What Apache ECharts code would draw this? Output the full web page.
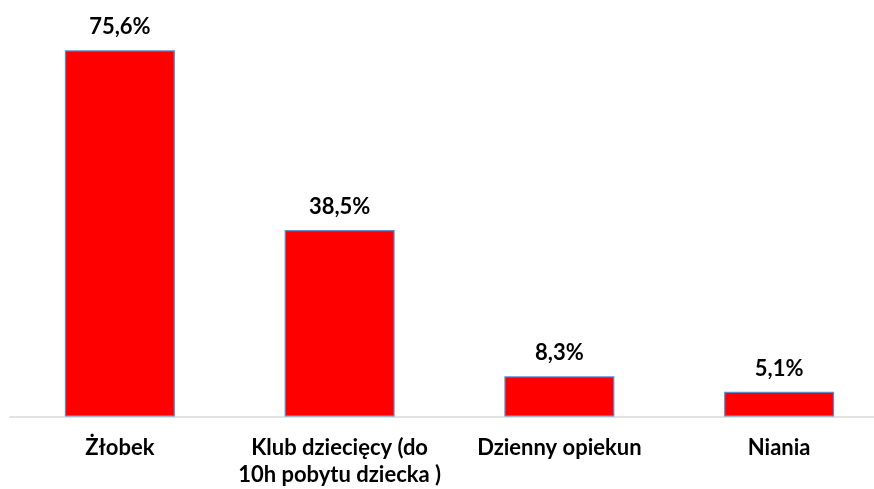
<!DOCTYPE html>
<html>
<head>
<meta charset="utf-8">
<script src="https://cdn.jsdelivr.net/npm/echarts@6/dist/echarts.min.js"></script>
<style>html,body{margin:0;padding:0;background:#fff}#c{width:874px;height:489px}</style>
</head>
<body>
<div id="c"></div>
<script>
const categories = ["Żłobek", "Klub dziecięcy (do\n10h pobytu dziecka )", "Dzienny opiekun", "Niania"];
const values = [75.6, 38.5, 8.3, 5.1];
const valueLabels = ["75,6%", "38,5%", "8,3%", "5,1%"];

const chart = echarts.init(document.getElementById('c'), null, {renderer: 'canvas'});
const FONT = 'Lato';
chart.setOption({
  animation: false,
  grid: {left: 10, top: 29, width: 879, height: 387.5, containLabel: false, outerBoundsMode: 'none'},
  xAxis: {
    type: 'category',
    data: categories,
    axisLine: {lineStyle: {color: '#d9d9d9', width: 1.5}},
    axisTick: {show: false},
    axisLabel: {
      interval: 0, margin: 17.5, color: '#000', fontFamily: FONT, fontWeight: 'bold',
      fontSize: 22, lineHeight: 27.5, verticalAlign: 'top', hideOverlap: false
    }
  },
  yAxis: {type: 'value', min: 0, max: 80, show: false, splitLine: {show: false}},
  series: [{
    type: 'bar',
    data: values,
    barWidth: 110,
    itemStyle: {color: '#ff0000', borderColor: '#5b8bc9', borderWidth: 1.2},
    label: {
      show: true, position: 'top', distance: 12,
      formatter: p => valueLabels[p.dataIndex],
      color: '#000', fontFamily: FONT, fontWeight: 'bold', fontSize: 22
    }
  }]
});
</script>
</body>
</html>
